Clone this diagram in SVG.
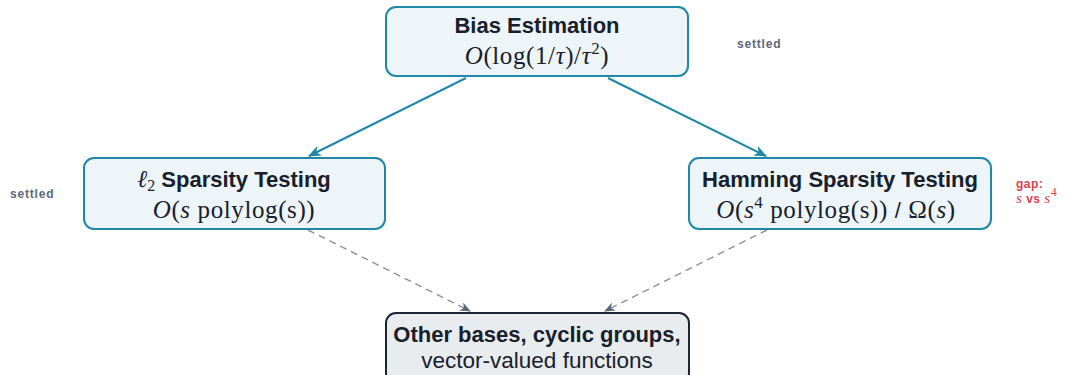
<svg xmlns="http://www.w3.org/2000/svg" width="1069" height="375" viewBox="0 0 1069 375">
<style>
.box{fill:#eef5f9;stroke:#1f87a8;stroke-width:2}
.box2{fill:#e9ecef;stroke:#1b2533;stroke-width:2}
.t{font-family:"Liberation Sans",Arial,sans-serif;font-weight:bold;font-size:22px;fill:#17202c;text-anchor:middle}
.m{font-family:"Liberation Serif","Times New Roman",serif;font-size:25px;letter-spacing:0.6px;fill:#17202c;text-anchor:middle}
.s{font-family:"Liberation Sans",Arial,sans-serif;font-size:22.5px;fill:#17202c;text-anchor:middle}
.i{font-style:italic}
.note{font-family:"Liberation Sans",Arial,sans-serif;font-weight:bold;font-size:12px;letter-spacing:0.8px;fill:#5d6779}
.gap{font-family:"Liberation Sans",Arial,sans-serif;font-weight:bold;font-size:12px;letter-spacing:0.5px;fill:#d9404c}
.solid{stroke:#1f87a8;stroke-width:2;fill:none}
.dash{stroke:#8a919c;stroke-width:1.4;fill:none;stroke-dasharray:7 5}
</style>
<defs>
<marker id="ah" viewBox="0 0 12 10" refX="11" refY="5" markerWidth="13" markerHeight="11" markerUnits="userSpaceOnUse" orient="auto">
<path d="M0,0 L12,5 L0,10 L3.5,5 Z" fill="#1f87a8"/>
</marker>
<marker id="ahd" viewBox="0 0 12 10" refX="11" refY="5" markerWidth="11" markerHeight="9" markerUnits="userSpaceOnUse" orient="auto">
<path d="M0,0 L12,5 L0,10 L3.5,5 Z" fill="#5d6779"/>
</marker>
</defs>
<g id="connectors">
<line class="solid" x1="466" y1="78" x2="309" y2="156" marker-end="url(#ah)"/>
<line class="solid" x1="608" y1="78" x2="766" y2="156" marker-end="url(#ah)"/>
<line class="dash" x1="308" y1="230" x2="470" y2="311" marker-end="url(#ahd)"/>
<line class="dash" x1="767" y1="230" x2="605" y2="311" marker-end="url(#ahd)"/>
</g>
<g id="bias">
<rect class="box" x="386" y="7" width="302" height="69" rx="10"/>
<text class="t" x="537" y="33">Bias Estimation</text>
<text class="m" x="537" y="64"><tspan class="i">O</tspan>(log(1/<tspan class="i">τ</tspan>)/<tspan class="i">τ</tspan><tspan font-size="17" dy="-10">2</tspan><tspan dy="10">)</tspan></text>
</g>
<g id="l2">
<rect class="box" x="84" y="158" width="301" height="71" rx="10"/>
<text class="t" x="234" y="187"><tspan font-family="Liberation Serif" font-style="italic" font-weight="normal" font-size="24">ℓ</tspan><tspan font-family="Liberation Serif" font-weight="normal" font-size="16" dy="4">2</tspan><tspan dy="-4"> Sparsity Testing</tspan></text>
<text class="m" x="234" y="218"><tspan class="i">O</tspan>(<tspan class="i">s</tspan> polylog(s))</text>
</g>
<g id="hamming">
<rect class="box" x="689" y="158" width="302" height="71" rx="10"/>
<text class="t" x="840" y="187">Hamming Sparsity Testing</text>
<text class="m" x="836" y="218"><tspan class="i">O</tspan>(<tspan class="i">s</tspan><tspan font-size="17" dy="-10">4</tspan><tspan dy="10"> polylog(s)) </tspan><tspan font-family="Liberation Sans" font-size="22">/</tspan> Ω(<tspan class="i">s</tspan>)</text>
</g>
<g id="other">
<rect class="box2" x="386" y="313" width="303" height="70" rx="10"/>
<text class="t" x="537" y="342" font-size="21.5">Other bases, cyclic groups,</text>
<text class="s" x="537" y="368">vector-valued functions</text>
</g>
<g id="notes">
<text class="note" x="737" y="48">settled</text>
<text class="note" x="10" y="198">settled</text>
<text class="gap" x="1016" y="188">gap:</text>
<text class="gap" x="1016" y="203" letter-spacing="1.5"><tspan font-family="Liberation Serif" font-style="italic" font-weight="normal" font-size="15">s</tspan> vs <tspan font-family="Liberation Serif" font-style="italic" font-weight="normal" font-size="15">s</tspan><tspan font-family="Liberation Serif" font-weight="normal" font-size="12" dy="-7">4</tspan></text>
</g>
</svg>
